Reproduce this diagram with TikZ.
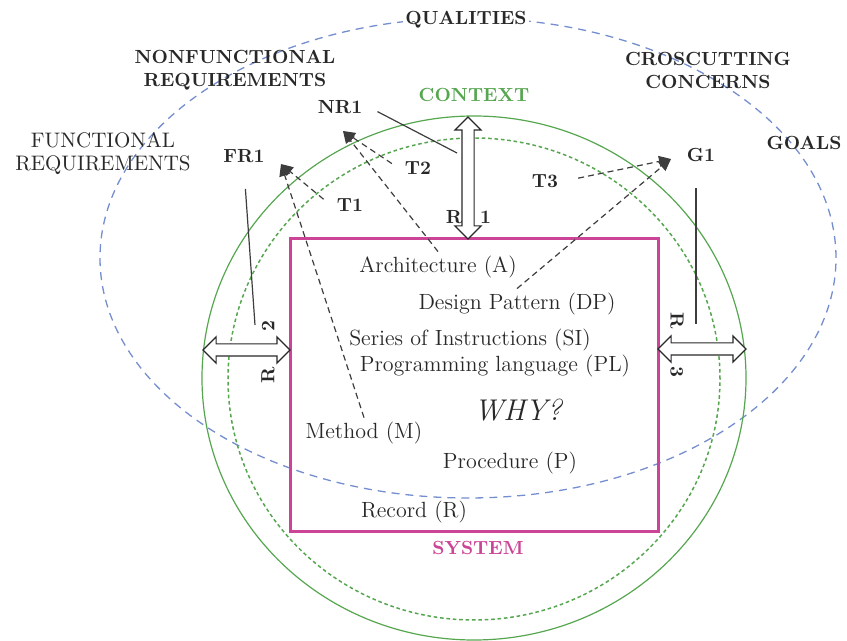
\documentclass[tikz,border=0pt]{standalone}
\usetikzlibrary{arrows.meta,shapes.arrows,calc}
\definecolor{qualblue}{RGB}{116,142,206}
\definecolor{ctxgreen}{RGB}{86,166,80}
\definecolor{sysmag}{RGB}{204,68,150}
\definecolor{ink}{RGB}{40,40,40}
\tikzset{
  >=Stealth,
  toplbl/.style={font=\fontsize{9.5}{11.5}\selectfont\bfseries,align=center,text=ink,inner sep=3pt},
  funclbl/.style={font=\fontsize{10.5}{11.5}\selectfont,align=center,text=ink,inner sep=3pt},
  item/.style={font=\fontsize{11}{13}\selectfont,text=ink,inner sep=2pt},
  rlbl/.style={font=\fontsize{9.5}{11}\selectfont\bfseries,text=ink,inner sep=0pt},
  qualline/.style={draw=qualblue,line width=0.65pt,dash pattern=on 4pt off 3pt},
  ctxline/.style={draw=ctxgreen,line width=0.6pt},
  ctxdots/.style={draw=ctxgreen,line width=0.75pt,dash pattern=on 1.8pt off 1.4pt},
  sysbox/.style={draw=sysmag,line width=1.5pt,minimum width=184pt,minimum height=146.5pt,inner sep=0pt,outer sep=0pt},
  trace/.style={draw=ink!90,line width=0.6pt,dash pattern=on 3pt off 2pt,-{Triangle[length=6pt,width=5.5pt]}},
  lead/.style={draw=ink!90,line width=0.6pt},
  relarrow/.style={shape=double arrow,draw=ink,fill=white,line width=0.6pt,inner sep=2.75pt,
    minimum width=0pt,double arrow head extend=3.5pt,double arrow head indent=0pt}
}
\begin{document}
\begin{tikzpicture}[x=0.5pt,y=-0.5pt]
\useasboundingbox (0,0) rectangle (847,641);
% qualities and context
\draw[qualline] (468,258) ellipse [x radius=184pt, y radius=120pt];
\draw[ctxline] (474,378) ellipse [x radius=136pt, y radius=131pt];
\draw[ctxdots] (474,379) ellipse [x radius=123pt, y radius=120.5pt];
\node[sysbox] (sys) at (474,385.5) {};

% outer labels
\node[toplbl,fill=white,inner sep=1pt] (qual) at (466,20) {QUALITIES};
\node[toplbl] (nfr) at (235,70) {NONFUNCTIONAL\\REQUIREMENTS};
\node[funclbl] (fr) at (103,154) {FUNCTIONAL\\REQUIREMENTS};
\node[toplbl] (cc) at (708,70) {CROSCUTTING\\CONCERNS};
\node[toplbl] (goals) at (804,143) {GOALS};
\node[toplbl,text=ctxgreen] (ctx) at (474,95) {CONTEXT};
\node[toplbl,text=sysmag] (system) at (478,548) {SYSTEM};

\node[toplbl] (fr1) at (244,156) {FR1};
\node[toplbl] (nr1) at (340,107) {NR1};
\node[toplbl] (g1) at (701,155) {G1};
\node[toplbl] (t1) at (350,205) {T1};
\node[toplbl] (t2) at (418,168) {T2};
\node[toplbl] (t3) at (545,181) {T3};

% system contents
\node[item] (arch) at (438,267) {Architecture (A)};
\node[item] (dp) at (517,304) {Design Pattern (DP)};
\node[item] (si) at (470,340) {Series of Instructions (SI)};
\node[item] (pl) at (495,366) {Programming language (PL)};
\node[item,font=\fontsize{15}{17}\selectfont\itshape] (why) at (518,410) {WHY?};
\node[item] (meth) at (364,433) {Method (M)};
\node[item] (proc) at (510,463) {Procedure (P)};
\node[item] (rec) at (414,512) {Record (R)};

% arrow ends
\coordinate (fr1in) at (281,164);
\coordinate (nr1in) at (343,131);
\coordinate (g1in) at (671,159);
\coordinate (ctxtop) at (468,117);
\coordinate (ctxleft) at (203,350);
\coordinate (ctxright) at (746,349);
\coordinate (r1lead) at (457,153);
\coordinate (r2lead) at (255,325);
\coordinate (r3lead) at (696,324);

% traces
\draw[trace] (meth.north) -- (fr1in);
\draw[trace,shorten <=4.5pt] (t1.west) -- (fr1in);
\draw[trace] (arch.north) -- (nr1in);
\draw[trace,shorten <=4pt] (t2.west) -- (nr1in);
\draw[trace,shorten <=7pt] (t3.east) -- (g1in);
\draw[trace] (dp.north) -- (g1in);

% relations
\node[relarrow,minimum height=61pt,rotate=90] (rel1) at ($(ctxtop)!0.5!(ctxtop |- sys.north)$) {};
\node[relarrow,minimum height=43.5pt] (rel2) at ($(ctxleft)!0.5!(sys.west |- ctxleft)$) {};
\node[relarrow,minimum height=44pt] (rel3) at ($(sys.east |- ctxright)!0.5!(ctxright)$) {};
\draw[lead,shorten <=5pt] (nr1.east) -- (r1lead);
\draw[lead,shorten <=10pt] (fr1.south) -- (r2lead);
\draw[lead,shorten <=10pt] (g1.south -| r3lead) -- (r3lead);
\node[rlbl] (r1) at (468.5,217) {R\hspace{9pt}1};
\node[rlbl,rotate=90] (r2) at (268,352) {R\hspace{17.5pt}2};
\node[rlbl,rotate=-90] (r3) at (677,345) {R\hspace{18.5pt}3};
\end{tikzpicture}
\end{document}
